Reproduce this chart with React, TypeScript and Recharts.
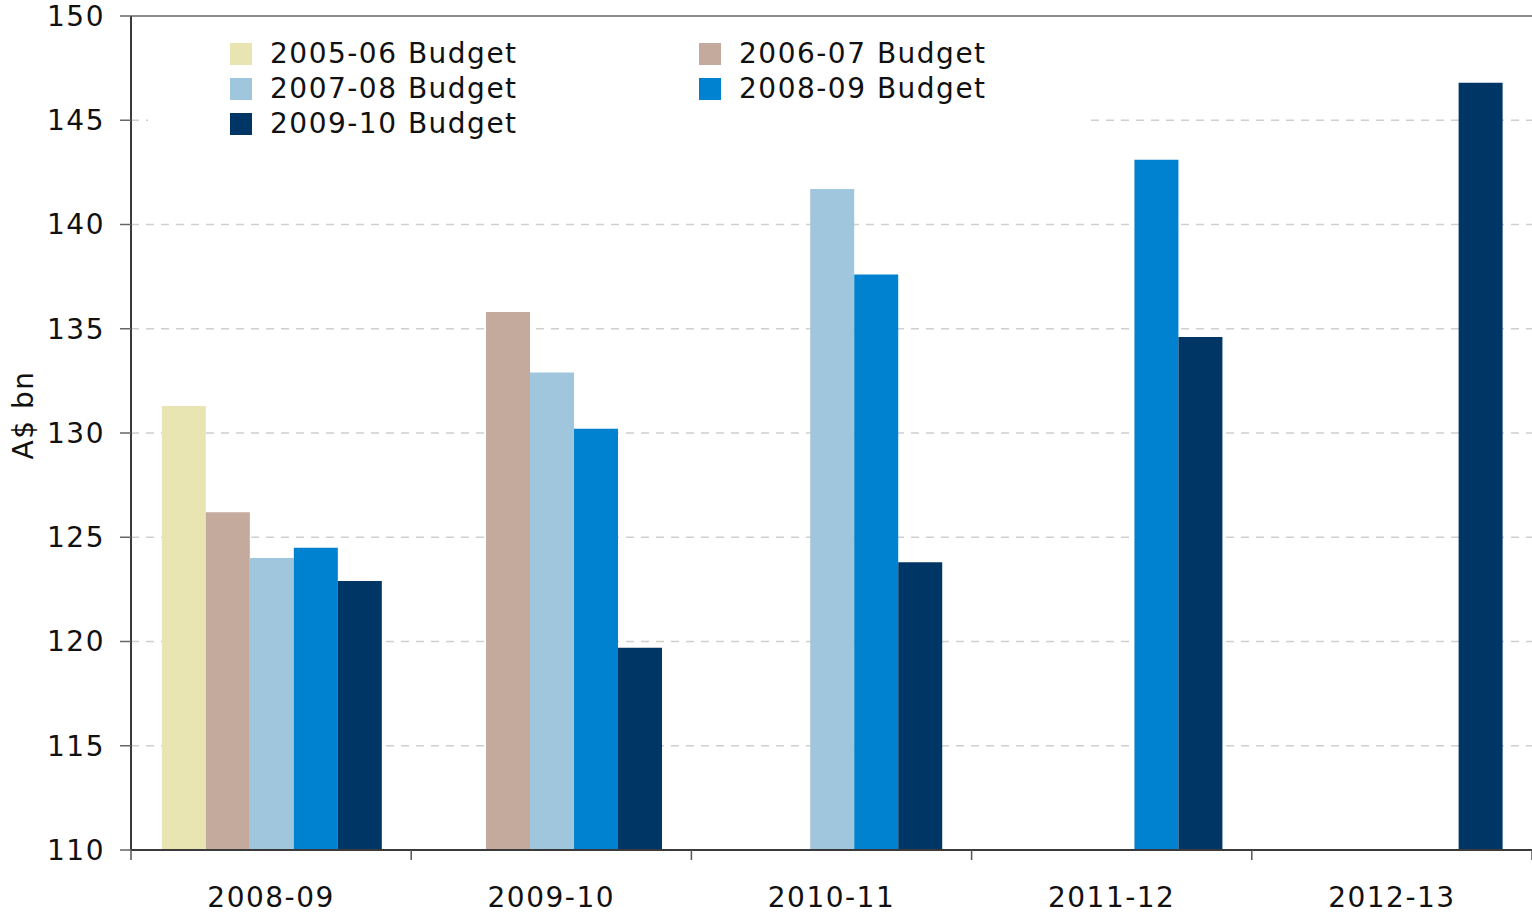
import React from "react";
import { Bar, BarChart, CartesianGrid, Legend, ReferenceLine, XAxis, YAxis } from "recharts";

const categories = ["2008-09", "2009-10", "2010-11", "2011-12", "2012-13"];
const budget0506 = [131.3, null, null, null, null];
const budget0607 = [126.2, 135.8, null, null, null];
const budget0708 = [124.0, 132.9, 141.7, null, null];
const budget0809 = [124.5, 130.2, 137.6, 143.1, null];
const budget0910 = [122.9, 119.7, 123.8, 134.6, 146.8];
const yTicks = [110, 115, 120, 125, 130, 135, 140, 145, 150];

const series = [
  { key: "b0506", name: "2005-06 Budget", values: budget0506, color: "#e8e5b3" },
  { key: "b0607", name: "2006-07 Budget", values: budget0607, color: "#c4a99d" },
  { key: "b0708", name: "2007-08 Budget", values: budget0708, color: "#a0c6dd" },
  { key: "b0809", name: "2008-09 Budget", values: budget0809, color: "#0082d0" },
  { key: "b0910", name: "2009-10 Budget", values: budget0910, color: "#003666" },
];

const data = categories.map((cat, i) => {
  const row: Record<string, string | number | null> = { cat };
  series.forEach((s) => (row[s.key] = s.values[i]));
  return row;
});

const W = 1532;
const H = 914;
const Y_AXIS_W = 131;
const FONT = "'DejaVu Sans', Verdana, sans-serif";
const step = (W - Y_AXIS_W) / categories.length;

function CategoryTick(props: any) {
  const { x, y, payload } = props;
  const last = payload.index === categories.length - 1;
  return (
    <g>
      <line x1={x - step / 2} x2={x - step / 2} y1={y} y2={y + 10} stroke="#555" strokeWidth={1.5} />
      {last && <line x1={x + step / 2} x2={x + step / 2} y1={y} y2={y + 10} stroke="#555" strokeWidth={1.5} />}
      <text x={x} y={y + 57} textAnchor="middle" fontSize={28} fill="#111" fontFamily={FONT} letterSpacing={1.5}>
        {payload.value}
      </text>
    </g>
  );
}

function LegendBox(props: any) {
  const items = props.payload || [];
  return (
    <div
      style={{
        background: "#fff",
        display: "grid",
        gridTemplateColumns: "469px 389px",
        paddingLeft: 82,
        paddingTop: 5,
        paddingBottom: 3,
        fontFamily: FONT,
        fontSize: 28,
        letterSpacing: 1.5,
        color: "#111",
      }}
    >
      {items.map((it: any) => (
        <div key={it.value} style={{ display: "flex", alignItems: "center", height: 35 }}>
          <span style={{ width: 22, height: 22, background: it.color, marginRight: 18, flex: "none" }} />
          <span>{it.value}</span>
        </div>
      ))}
    </div>
  );
}

export default function App() {
  return (
    <div style={{ position: "absolute", left: 0, top: 0, width: W, height: H, background: "#fff" }}>
      <BarChart
        width={W}
        height={H}
        data={data}
        margin={{ top: 16, right: 0, bottom: 0, left: 0 }}
        barCategoryGap="11%"
        barGap={0}
        style={{ fontFamily: FONT }}
      >
        <CartesianGrid vertical={false} stroke="#cfcfcf" strokeDasharray="8 7" strokeWidth={1.5} />
        <XAxis
          dataKey="cat"
          height={64}
          tickLine={false}
          tickSize={0}
          tickMargin={0}
          axisLine={{ stroke: "#3a3a3a", strokeWidth: 2 }}
          tick={<CategoryTick />}
          interval={0}
        />
        <YAxis
          width={Y_AXIS_W}
          domain={[110, 150]}
          ticks={yTicks}
          interval={0}
          tickSize={11}
          tickMargin={15}
          axisLine={{ stroke: "#3a3a3a", strokeWidth: 2 }}
          tickLine={{ stroke: "#666", strokeWidth: 1.5 }}
          tick={{ fontSize: 28, fill: "#111", fontFamily: FONT, letterSpacing: 1.5 }}
          label={{
            content: () => (
              <text
                x={33}
                y={415}
                transform="rotate(-90 33 415)"
                textAnchor="middle"
                fontSize={28}
                fill="#111"
                fontFamily={FONT}
                letterSpacing={1.5}
              >
                A$ bn
              </text>
            ),
          }}
        />
        <ReferenceLine y={150} stroke="#8c8c8c" strokeWidth={2} />
        <Legend
          verticalAlign="middle"
          align="center"
          content={<LegendBox />}
          wrapperStyle={{ left: 148, top: 31, width: 940, bottom: "auto", margin: 0 }}
        />
        {series.map((s) => (
          <Bar key={s.key} dataKey={s.key} name={s.name} fill={s.color} isAnimationActive={false} />
        ))}
      </BarChart>
    </div>
  );
}
